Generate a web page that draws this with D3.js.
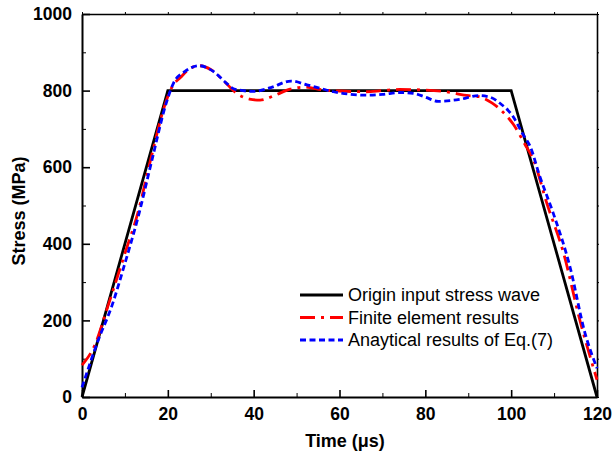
<!DOCTYPE html>
<html>
<head>
<meta charset="utf-8">
<script src="https://cdn.jsdelivr.net/npm/d3@7"></script>
<style>
    body { margin: 0; background: #fff; }
    svg { display: block; font-family: "Liberation Sans", Arial, sans-serif; }
</style>
</head>
<body>
<div id="chart"></div>
<script>
// input stress wave (trapezoid)
const inputTime = [0, 20, 100, 120];
const inputStress = [0, 800, 800, 0];

// finite element results
const feTime = [0, 3, 6, 10, 13, 16, 19.3, 21, 23, 25, 27.3, 30, 33, 36, 39, 41.5, 45, 48.5, 52, 56, 60, 66, 70, 74, 82, 86, 89, 92.5, 95.5, 98, 100.5, 103.2, 105.2, 108.3, 112.2, 116, 120];
const feStress = [83, 136, 236, 375, 480, 620, 762, 810, 835, 856, 865, 855, 826, 793, 778, 775, 788, 804, 809, 802, 799, 797, 800, 803, 800, 795, 788, 784, 768, 745, 712, 660, 619, 506, 376, 201, 45];

// analytical results of Eq.(7)
const anTime = [0, 3.8, 6.9, 10, 13.1, 16.2, 19.7, 21.3, 24, 27.3, 30.6, 33.7, 35.5, 40, 44, 48.7, 52.4, 55.5, 58.6, 62, 66.3, 70, 74.1, 77.2, 80, 83, 88, 92.5, 95, 97.4, 100.4, 102.8, 104.4, 106.7, 109.8, 113.7, 117.2, 120];
const anStress = [25, 149, 236, 349, 471, 614, 770, 819, 850, 865, 850, 819, 804, 798, 808, 825, 815, 806, 797, 791, 788, 790, 795, 793, 783, 772, 777, 787, 783, 767, 733, 685, 655, 575, 480, 340, 167, 75];

const xTicks = [0, 20, 40, 60, 80, 100, 120];
const yTicks = [0, 200, 400, 600, 800, 1000];
const legendLabels = ["Origin input stress wave", "Finite element results", "Anaytical results of Eq.(7)"];

(() => {
    const width = 613, height = 456, margin = { top: 14, right: 16, bottom: 59, left: 82 };
    const w = width - margin.left - margin.right, h = height - margin.top - margin.bottom;

    const svg = d3.select("#chart")
        .append("svg")
        .attr("width", width)
        .attr("height", height);

    const chart = svg.append("g")
        .attr("transform", `translate(${margin.left},${margin.top})`);

    const x = d3.scaleLinear().domain([0, 120]).range([0, w]);
    const y = d3.scaleLinear().domain([0, 1000]).range([h, 0]);

    const minorX = d3.range(10, 120, 20), minorY = d3.range(100, 1000, 200);

    // minor ticks first, majors + labels on top
    chart.append("g")
        .attr("transform", `translate(0,${h})`)
        .call(d3.axisBottom(x).tickValues(minorX).tickSize(-4).tickFormat(""))
        .call(g => g.select(".domain").remove());
    chart.append("g")
        .call(d3.axisLeft(y).tickValues(minorY).tickSize(-4).tickFormat(""))
        .call(g => g.select(".domain").remove());

    // mirror axes: thin top / right with tiny ticks
    chart.append("g")
        .call(d3.axisTop(x).tickValues(xTicks.concat(minorX)).tickSizeInner(2).tickSizeOuter(0).tickFormat(""))
        .call(g => g.select(".domain").attr("stroke-width", 1.6));
    chart.append("g")
        .attr("transform", `translate(${w},0)`)
        .call(d3.axisRight(y).tickValues(yTicks.concat(minorY)).tickSizeInner(2).tickSizeOuter(0).tickFormat(""))
        .call(g => g.select(".domain").attr("stroke-width", 1.6));

    chart.append("g")
        .attr("transform", `translate(0,${h})`)
        .call(d3.axisBottom(x).tickValues(xTicks).tickSizeInner(-7).tickSizeOuter(0).tickPadding(11).tickFormat(d3.format("d")))
        .call(g => g.select(".domain").attr("stroke-width", 2))
        .call(g => g.selectAll("line").attr("stroke-width", 1.6))
        .call(g => g.selectAll("text").style("font-size", "17.5px").style("font-weight", "bold").attr("fill", "#000"));

    chart.append("g")
        .call(d3.axisLeft(y).tickValues(yTicks).tickSizeInner(-8).tickSizeOuter(0).tickPadding(10).tickFormat(d3.format("d")))
        .call(g => g.select(".domain").attr("stroke-width", 2))
        .call(g => g.selectAll("line").attr("stroke-width", 1.6))
        .call(g => g.selectAll("text").style("font-size", "17.5px").style("font-weight", "bold").attr("fill", "#000"));

    const series = [
        { t: inputTime, s: inputStress, color: "#000", dash: null, curve: d3.curveLinear },
        { t: feTime, s: feStress, color: "#ff0000", dash: "15,6,3,6", curve: d3.curveMonotoneX },
        { t: anTime, s: anStress, color: "#0000ff", dash: "6,3.5", curve: d3.curveMonotoneX }
    ];

    series.forEach(sr => {
        const pts = sr.t.map((t, i) => [t, sr.s[i]]);
        chart.append("path")
            .datum(pts)
            .attr("fill", "none")
            .attr("stroke", sr.color)
            .attr("stroke-width", 2.8)
            .attr("stroke-dasharray", sr.dash)
            .attr("d", d3.line().x(d => x(d[0])).y(d => y(d[1])).curve(sr.curve));
    });

    // legend
    const legend = svg.append("g").attr("transform", "translate(300,295)");
    series.forEach((sr, i) => {
        const row = legend.append("g").attr("transform", `translate(0,${i * 22.5})`);
        row.append("line")
            .attr("x1", 0).attr("x2", 43)
            .attr("stroke", sr.color)
            .attr("stroke-width", 2.8)
            .attr("stroke-dasharray", sr.dash);
        row.append("text")
            .attr("x", 48)
            .attr("dy", "0.35em")
            .style("font-size", "18px")
            .text(legendLabels[i]);
    });

    svg.append("text")
        .attr("x", 345)
        .attr("y", 447)
        .attr("text-anchor", "middle")
        .style("font-size", "18px")
        .style("font-weight", "bold")
        .text("Time (μs)");

    svg.append("text")
        .attr("transform", "rotate(-90)")
        .attr("x", -211)
        .attr("y", 25)
        .attr("text-anchor", "middle")
        .style("font-size", "18px")
        .style("font-weight", "bold")
        .text("Stress (MPa)");
})();
</script>
</body>
</html>
